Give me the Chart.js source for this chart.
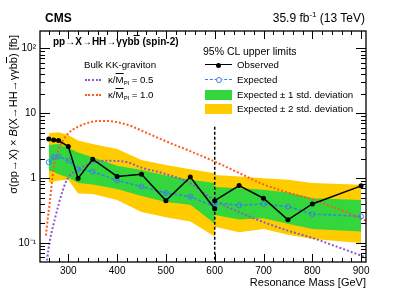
<!DOCTYPE html>
<html>
<head>
<meta charset="utf-8">
<script src="https://cdn.jsdelivr.net/npm/chart.js@4.4.0/dist/chart.umd.min.js"></script>
<style>
  body { margin: 0; background: #fff; }
  #wrap { position: relative; width: 407px; height: 292px; font-family: 'Liberation Sans', Arial, sans-serif; color: #000; }
  #wrap canvas { position: absolute; left: 0; top: 0; }
  .t { position: absolute; white-space: nowrap; line-height: 1; }
  .ov { text-decoration: overline; }
  .sw { position: absolute; }
</style>
</head>
<body>
<div id="wrap">
  <canvas id="myChart" width="407" height="292"></canvas>

  <div class="t" style="left:45px; top:12px; font-size:12px; font-weight:bold;">CMS</div>
  <div class="t" style="right:42px; top:12px; font-size:12px;">35.9 fb<span style="font-size:8px; position:relative; top:-5px;">-1</span> (13 TeV)</div>

  <!-- y axis title -->
  <div class="t" style="left:8px; top:205px; width:170px; text-align:right; font-size:11px; transform-origin:0 0; transform:rotate(-90deg);">σ(pp→X) × <i>B</i>(X→HH→γγb<span class="ov">b</span>) [fb]</div>
  <!-- x axis title -->
  <div class="t" style="right:41px; top:277px; font-size:11px;">Resonance Mass [GeV]</div>

  <div class="t" style="left:53px; top:37px; font-size:10px; font-weight:bold;">pp→X→HH→γγb<span class="ov">b</span> (spin-2)</div>

  <!-- theory legend -->
  <div class="t" style="left:84px; top:60px; font-size:9.7px;">Bulk KK-graviton</div>
  <div class="sw" style="left:85px; top:79px; width:16px; border-top:2px dotted #8c5ac8;"></div>
  <div class="t" style="left:108px; top:75px; font-size:9.7px;">κ/<span class="ov">M</span><span style="font-size:6px; position:relative; top:2px;">Pl</span> = 0.5</div>
  <div class="sw" style="left:85px; top:93.5px; width:16px; border-top:2px dotted #ff5a1e;"></div>
  <div class="t" style="left:108px; top:89.5px; font-size:9.7px;">κ/<span class="ov">M</span><span style="font-size:6px; position:relative; top:2px;">Pl</span> = 1.0</div>

  <!-- limits legend -->
  <div class="t" style="left:203px; top:46px; font-size:10.5px;">95% CL upper limits</div>
  <div class="sw" style="left:205px; top:64px; width:27px; border-top:1.5px solid #000;"></div>
  <div class="sw" style="left:216px; top:62.5px; width:5px; height:5px; border-radius:50%; background:#000;"></div>
  <div class="t" style="left:237px; top:60px; font-size:9.7px;">Observed</div>
  <div class="sw" style="left:205px; top:79px; width:27px; border-top:1.5px dashed #3782e6;"></div>
  <div class="sw" style="left:215.5px; top:77px; width:4px; height:4px; border-radius:50%; border:1px solid #3782e6; background:#fff;"></div>
  <div class="t" style="left:237px; top:75px; font-size:9.7px;">Expected</div>
  <div class="sw" style="left:205px; top:90px; width:27px; height:10px; background:#33d63d;"></div>
  <div class="t" style="left:237px; top:90px; font-size:9.7px;">Expected ± 1 std. deviation</div>
  <div class="sw" style="left:205px; top:104px; width:27px; height:10px; background:#ffcc00;"></div>
  <div class="t" style="left:237px; top:104px; font-size:9.7px;">Expected ± 2 std. deviation</div>
</div>

<script>
// Resonance masses, low-mass and high-mass analyses (they overlap at 600 GeV)
const massLow = [260, 270, 280, 300, 320, 350, 400, 450, 500, 550, 600];
const observedLow = [4.0, 3.88, 3.79, 3.06, 0.99, 1.96, 1.06, 1.15, 0.45, 1.04, 0.337];
const expectedLow = [1.76, 2.10, 2.15, 1.87, 1.37, 1.26, 0.92, 0.74, 0.59, 0.52, 0.365];
const plus1Low = [3.25, 3.3, 3.37, 2.9, 2.48, 2.1, 1.55, 1.34, 1.1, 0.94, 0.84];
const minus1Low = [1.3, 1.25, 1.15, 1.02, 0.84, 0.8, 0.68, 0.53, 0.43, 0.39, 0.2];
const plus2Low = [4.9, 5.0, 5.1, 4.6, 3.8, 3.37, 2.8, 1.91, 1.6, 1.37, 1.19];
const minus2Low = [0.84, 0.88, 0.92, 0.94, 0.58, 0.57, 0.46, 0.3, 0.25, 0.215, 0.126];

const massHigh = [600, 650, 700, 750, 800, 900];
const observedHigh = [0.45, 0.77, 0.49, 0.228, 0.40, 0.76];
const expectedHigh = [0.42, 0.38, 0.40, 0.365, 0.28, 0.257];
const plus1High = [0.73, 0.70, 0.66, 0.6, 0.49, 0.46];
const minus1High = [0.27, 0.23, 0.24, 0.198, 0.164, 0.15];
const plus2High = [1.12, 1.06, 1.0, 0.94, 0.84, 0.79];
const minus2High = [0.178, 0.146, 0.164, 0.134, 0.115, 0.1];

// Bulk KK-graviton predictions
const massK10 = [254, 258, 262, 266, 270, 275, 280, 290, 300, 320, 340, 360, 380, 400, 430, 450, 500, 550, 600, 650, 700, 750, 800, 850, 900, 910];
const theoryK10 = [0.13, 0.24, 0.42, 0.8, 1.45, 2.1, 2.8, 3.9, 4.9, 6.2, 7.1, 7.6, 7.6, 7.3, 6.3, 5.4, 3.7, 2.6, 1.8, 1.2, 0.8, 0.6, 0.47, 0.34, 0.24, 0.22];
const massK05 = [254, 257, 262, 272, 289, 299, 320, 347, 374, 415, 450, 494, 549, 600, 650, 700, 750, 800, 850, 900, 910];
const theoryK05 = [0.035, 0.059, 0.106, 0.228, 0.66, 1.0, 1.34, 1.7, 1.85, 1.8, 1.45, 1.19, 0.84, 0.45, 0.3, 0.21, 0.155, 0.12, 0.088, 0.064, 0.06];

// boundary between the two analyses
const splitMass = [600, 600];
const splitValue = [6.2, 0.05];

const xTicks = [300, 400, 500, 600, 700, 800, 900];
const yTicks = [0.1, 1, 10, 100];
const yTickLabels = ['10⁻¹', '1', '10', '10²'];

const green = '#33d63d';
const yellow = '#ffcc00';
const blue = '#3782e6';

const toPoints = (xs, ys) => xs.map((x, i) => ({ x: x, y: ys[i] }));

const band = (xs, ys, color, fill) => ({
  data: toPoints(xs, ys),
  borderWidth: 0,
  pointRadius: 0,
  backgroundColor: color,
  fill: fill,
  tension: 0,
});

const observed = (xs, ys) => ({
  data: toPoints(xs, ys),
  borderColor: '#000',
  borderWidth: 1.5,
  pointRadius: 2.5,
  pointBackgroundColor: '#000',
  pointBorderWidth: 0,
  fill: false,
  tension: 0,
});

const expected = (xs, ys) => ({
  data: toPoints(xs, ys),
  borderColor: blue,
  borderWidth: 1.5,
  borderDash: [3, 2],
  pointRadius: 2.5,
  pointBackgroundColor: 'rgba(0,0,0,0)',
  pointBorderColor: blue,
  pointBorderWidth: 1,
  fill: false,
  tension: 0,
});

const theory = (xs, ys, color) => ({
  data: toPoints(xs, ys),
  borderColor: color,
  borderWidth: 2,
  borderDash: [2, 2],
  pointRadius: 0,
  fill: false,
  cubicInterpolationMode: 'monotone',
});

// inner ticks on all four sides plus the frame, ROOT style
const frameTicks = {
  id: 'frameTicks',
  afterDraw(chart) {
    const { ctx, chartArea: a, scales } = chart;
    const xs = scales.x, ys = scales.y;
    ctx.save();
    ctx.strokeStyle = '#000';
    ctx.lineWidth = 1;
    ctx.beginPath();
    for (let v = 260; v <= 900; v += 20) {
      const px = Math.round(xs.getPixelForValue(v)) + 0.5;
      const len = v % 100 === 0 ? 8 : 4;
      ctx.moveTo(px, a.bottom); ctx.lineTo(px, a.bottom - len);
      ctx.moveTo(px, a.top); ctx.lineTo(px, a.top + len);
    }
    for (let d = -2; d <= 2; d++) {
      for (let k = 1; k <= 9; k++) {
        const v = k * Math.pow(10, d);
        if (v < ys.min || v > ys.max) continue;
        const py = Math.round(ys.getPixelForValue(v)) + 0.5;
        const len = k === 1 ? 10 : 5;
        ctx.moveTo(a.left, py); ctx.lineTo(a.left + len, py);
        ctx.moveTo(a.right, py); ctx.lineTo(a.right - len, py);
      }
    }
    ctx.stroke();
    ctx.lineWidth = 1.3;
    ctx.strokeRect(a.left, a.top, a.right - a.left, a.bottom - a.top);
    ctx.restore();
  },
};

const ctx = document.getElementById('myChart');

const myChart = new Chart(ctx, {
  type: 'line',
  data: {
    datasets: [
      observed(massLow, observedLow),
      observed(massHigh, observedHigh),
      expected(massLow, expectedLow),
      expected(massHigh, expectedHigh),
      theory(massK05, theoryK05, '#8c5ac8'),
      theory(massK10, theoryK10, '#ff5a1e'),
      {
        data: toPoints(splitMass, splitValue),
        borderColor: '#000',
        borderWidth: 1.5,
        borderDash: [3, 2],
        pointRadius: 0,
        fill: false,
      },
      band(massLow, plus1Low, green, '+1'),
      band(massLow, minus1Low, green, false),
      band(massHigh, plus1High, green, '+1'),
      band(massHigh, minus1High, green, false),
      band(massLow, plus2Low, yellow, '+1'),
      band(massLow, minus2Low, yellow, false),
      band(massHigh, plus2High, yellow, '+1'),
      band(massHigh, minus2High, yellow, false),
    ],
  },
  options: {
    responsive: false,
    animation: false,
    layout: { padding: { left: 0, right: 41, top: 31, bottom: 0 } },
    plugins: {
      legend: { display: false },
      tooltip: { enabled: false },
    },
    scales: {
      x: {
        type: 'linear',
        min: 242,
        max: 910,
        grid: { display: false, drawTicks: false },
        border: { display: false },
        afterBuildTicks: (scale) => {
          scale.ticks = xTicks.map((v) => ({ value: v }));
        },
        afterFit: (scale) => {
          scale.height = 30;
        },
        ticks: {
          padding: 3,
          maxRotation: 0,
          color: '#000',
          font: { family: 'Liberation Sans', size: 10 },
        },
      },
      y: {
        type: 'logarithmic',
        min: 0.051,
        max: 185,
        grid: { display: false, drawTicks: false },
        border: { display: false },
        afterBuildTicks: (scale) => {
          scale.ticks = yTicks.map((v) => ({ value: v }));
        },
        afterFit: (scale) => {
          scale.width = 40;
        },
        ticks: {
          padding: 4,
          color: '#000',
          font: { family: 'Liberation Sans', size: 10 },
          callback: (value) => {
            const i = yTicks.indexOf(value);
            return i >= 0 ? yTickLabels[i] : '';
          },
        },
      },
    },
  },
  plugins: [frameTicks],
});
</script>
</body>
</html>
